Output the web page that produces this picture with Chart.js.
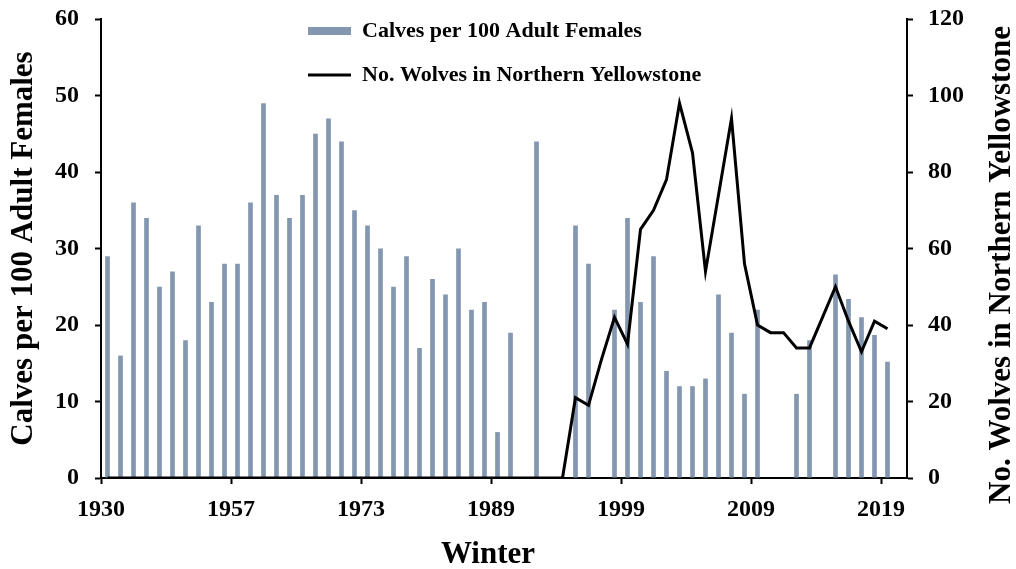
<!DOCTYPE html>
<html>
<head>
<meta charset="utf-8">
<style>
  html, body { margin: 0; padding: 0; background: #ffffff; }
  #wrap { width: 1016px; height: 569px; position: relative; }
  canvas { display: block; }
</style>
<script src="https://cdn.jsdelivr.net/npm/chart.js@4/dist/chart.umd.min.js"></script>
</head>
<body>
<div id="wrap"><canvas id="c" width="1016" height="569"></canvas></div>
<script>
// ---- Data ----
// 62 winter slots; tick labels sit at every 10th slot boundary
const xTickPositions = [0, 10, 20, 30, 40, 50, 60];
const xTickLabels = ['1930', '1957', '1973', '1989', '1999', '2009', '2019'];

const calves = [
  29, 16, 36, 34, 25, 27, 18, 33, 23, 28,
  28, 36, 49, 37, 34, 37, 45, 47, 44, 35,
  33, 30, 25, 29, 17, 26, 24, 30, 22, 23,
  6, 19, null, 44, null, null, 33, 28, null, 22,
  34, 23, 29, 14, 12, 12, 13, 24, 19, 11,
  22, null, null, 11, 18, null, 26.6, 23.4, 21, 18.7,
  15.2, null
];

const wolves = [
  0, 0, 0, 0, 0, 0, 0, 0, 0, 0,
  0, 0, 0, 0, 0, 0, 0, 0, 0, 0,
  0, 0, 0, 0, 0, 0, 0, 0, 0, 0,
  0, 0, 0, 0, 0, 0, 21, 19, 31, 42,
  35, 65, 70, 78, 98, 85, 54, 74, 94, 56,
  40, 38, 38, 34, 34, 42, 50, 41, 33, 41,
  39, null
];

const calvesLabel = 'Calves per 100 Adult Females';
const wolvesLabel = 'No. Wolves in Northern Yellowstone';
const xTitle = 'Winter';

// ---- Styling ----
const BAR_COLOR = '#8497B0';
const FONT = "'Liberation Serif', 'Times New Roman', serif";
Chart.defaults.font.family = FONT;
Chart.defaults.font.weight = 'bold';
Chart.defaults.color = '#000';

// slot i is centred at i + 0.5 on the linear x scale
const calvesPts = calves.map((v, i) => ({ x: i + 0.5, y: v }));
const wolvesPts = wolves.map((v, i) => ({ x: i + 0.5, y: v }));

const tickFont = { family: FONT, size: 24, weight: 'bold' };
const titleFont = { family: FONT, size: 31, weight: 'bold', lineHeight: 1 };

const noVPad = (s) => { s.paddingTop = 0; s.paddingBottom = 0; };

const layoutFix = {
  id: 'layoutFix',
  afterLayout(chart) {
    // legend sits inside the plot area, near the top centre
    const lg = chart.legend;
    if (lg) {
      lg.left = 286; lg.top = -2;
      lg.right = lg.left + 440; lg.bottom = lg.top + 120;
    }
    // right axis title reads bottom-to-top
    const y2 = chart.scales.y2;
    y2.drawTitle = function () {
      const t = this.options.title;
      if (!t.display) return;
      const ctx = this.ctx;
      ctx.save();
      ctx.translate(this.right - 14.5, 265);
      ctx.rotate(-Math.PI / 2);
      ctx.font = 'bold ' + t.font.size + 'px ' + FONT;
      ctx.fillStyle = '#000';
      ctx.textAlign = 'center';
      ctx.textBaseline = 'middle';
      ctx.fillText(t.text, 0, 0);
      ctx.restore();
    };
    const x = chart.scales.x;
    x.drawTitle = function () {
      const t = this.options.title;
      if (!t.display) return;
      const ctx = this.ctx;
      ctx.save();
      ctx.font = 'bold ' + t.font.size + 'px ' + FONT;
      ctx.fillStyle = '#000';
      ctx.textAlign = 'center';
      ctx.textBaseline = 'middle';
      ctx.fillText(t.text, (this.left + this.right) / 2 - 16, this.bottom - 14.5);
      ctx.restore();
    };
  }
};

new Chart(document.getElementById('c'), {
  type: 'bar',
  data: {
    datasets: [
      {
        type: 'bar',
        label: calvesLabel,
        data: calvesPts,
        backgroundColor: BAR_COLOR,
        borderWidth: 0,
        barPercentage: 0.36,
        categoryPercentage: 1,
        yAxisID: 'y',
        order: 1
      },
      {
        type: 'line',
        label: wolvesLabel,
        data: wolvesPts,
        borderColor: '#000',
        backgroundColor: '#000',
        borderWidth: 3,
        pointRadius: 0,
        pointHoverRadius: 0,
        tension: 0,
        fill: false,
        yAxisID: 'y2',
        order: 0
      }
    ]
  },
  options: {
    responsive: false,
    animation: false,
    devicePixelRatio: 1,
    layout: { padding: { top: 19, left: 0, right: 0, bottom: 0 } },
    plugins: {
      tooltip: { enabled: false },
      legend: {
        display: true,
        position: 'chartArea',
        align: 'start',
        labels: {
          usePointStyle: true,
          pointStyleWidth: 43,
          boxHeight: 8,
          padding: 22,
          color: '#000',
          font: { family: FONT, size: 22, weight: 'bold' },
          generateLabels(chart) {
            const items = Chart.defaults.plugins.legend.labels.generateLabels(chart);
            items.sort((a, b) => a.datasetIndex - b.datasetIndex);
            items.forEach(it => {
              const ds = chart.data.datasets[it.datasetIndex];
              if (ds.type === 'line') {
                it.pointStyle = 'line'; it.lineWidth = 3; it.strokeStyle = '#000'; it.fillStyle = '#000';
              } else {
                it.pointStyle = 'rect'; it.lineWidth = 0; it.fillStyle = BAR_COLOR; it.strokeStyle = BAR_COLOR;
              }
            });
            return items;
          }
        }
      }
    },
    scales: {
      x: {
        type: 'linear',
        position: 'bottom',
        min: 0,
        max: 62,
        offset: false,
        afterBuildTicks: (s) => { s.ticks = xTickPositions.map(v => ({ value: v })); },
        afterFit: (s) => { s.height = 91; },
        ticks: {
          autoSkip: false,
          maxRotation: 0,
          minRotation: 0,
          padding: 11,
          color: '#000',
          font: tickFont,
          callback: (v, i) => xTickLabels[i]
        },
        grid: { offset: false, drawOnChartArea: false, drawTicks: true, tickLength: 6, tickColor: '#000', tickWidth: 2 },
        border: { display: true, color: '#000', width: 2 },
        title: { display: true, text: xTitle, color: '#000', font: titleFont, padding: 0 }
      },
      y: {
        type: 'linear',
        position: 'left',
        min: 0,
        max: 60,
        afterFit: (s) => { s.width = 101; noVPad(s); },
        ticks: { stepSize: 10, padding: 16, color: '#000', font: tickFont },
        grid: { drawOnChartArea: false, drawTicks: true, tickLength: 6, tickColor: '#000', tickWidth: 2 },
        border: { display: true, color: '#000', width: 2 },
        title: { display: true, text: calvesLabel, color: '#000', font: titleFont, padding: { top: 8, bottom: 0 } }
      },
      y2: {
        type: 'linear',
        position: 'right',
        min: 0,
        max: 120,
        afterFit: (s) => { s.width = 109; noVPad(s); },
        ticks: { stepSize: 20, padding: 15, color: '#000', font: tickFont },
        grid: { drawOnChartArea: false, drawTicks: true, tickLength: 6, tickColor: '#000', tickWidth: 2 },
        border: { display: true, color: '#000', width: 2 },
        title: { display: true, text: wolvesLabel, color: '#000', font: titleFont, padding: 0 }
      }
    }
  },
  plugins: [layoutFix]
});
</script>
</body>
</html>
